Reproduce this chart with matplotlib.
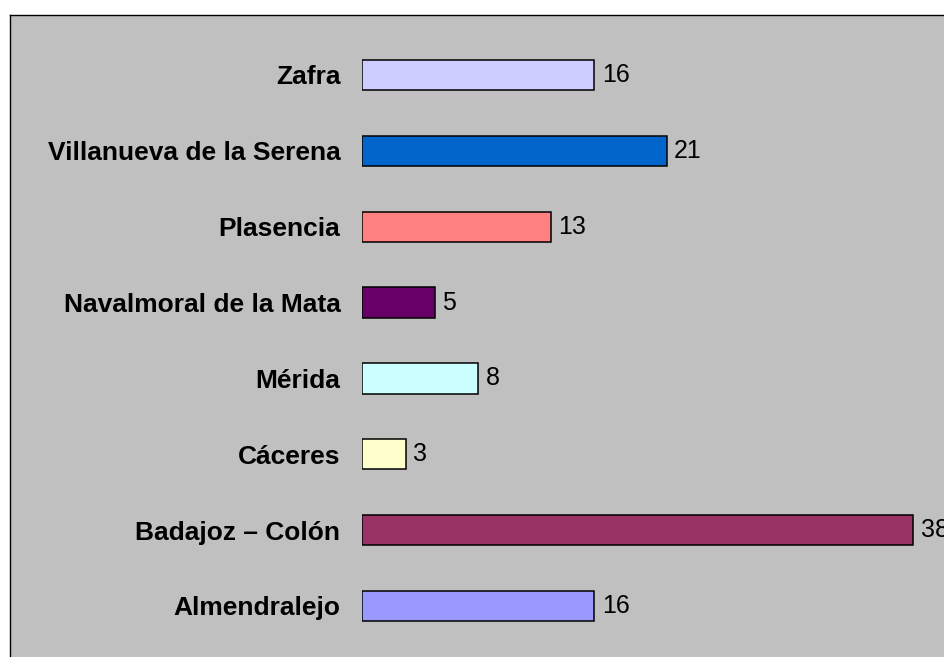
import matplotlib
matplotlib.use("Agg")
import matplotlib.pyplot as plt

# data, bottom to top
centros = ["Almendralejo", "Badajoz – Colón", "Cáceres", "Mérida",
           "Navalmoral de la Mata", "Plasencia", "Villanueva de la Serena", "Zafra"]
valores = [16, 38, 3, 8, 5, 13, 21, 16]
colores = ["#9999FF", "#993366", "#FFFFCC", "#CCFFFF",
           "#660066", "#FF8080", "#0066CC", "#CCCCFF"]

W, H = 944, 657
plt.rcParams['font.family'] = ['Liberation Sans', 'DejaVu Sans']

fig = plt.figure(figsize=(W / 100, H / 100), dpi=100)
fig.patch.set_facecolor("white")

# grey chart area with a frame on top and left only
bg = fig.add_axes([10 / W, 0, (W - 10) / W, (H - 15) / H])
bg.set_facecolor("#C0C0C0")
bg.set_xticks([])
bg.set_yticks([])
for s in ["right", "bottom"]:
    bg.spines[s].set_visible(False)
for s in ["top", "left"]:
    bg.spines[s].set_linewidth(1.0)

# plotting axes: x=0 at px 362, 14.5 px per unit
x0 = 362
ax = fig.add_axes([x0 / W, 0, (W - x0) / W, (H - 15) / H])
ax.patch.set_visible(False)
ax.set_xlim(0, (W - x0) / 14.5)
step = (606 - 75) / 7
ax.set_ylim(-(657 - 606) / step, 7 + (75 - 15) / step)

pos = list(range(len(centros)))
bars = ax.barh(pos, valores, height=0.4, color=colores,
               edgecolor="black", linewidth=1.1)
ax.bar_label(bars, labels=[str(v) for v in valores], padding=5.5,
             fontsize=18, clip_on=False)

ax.set_yticks(pos)
ax.set_yticklabels(centros, fontsize=19, fontweight="bold")
ax.tick_params(axis="y", length=0, pad=15.5)
ax.set_xticks([])
for s in ax.spines.values():
    s.set_visible(False)

fig.savefig("out.png", dpi=100)
